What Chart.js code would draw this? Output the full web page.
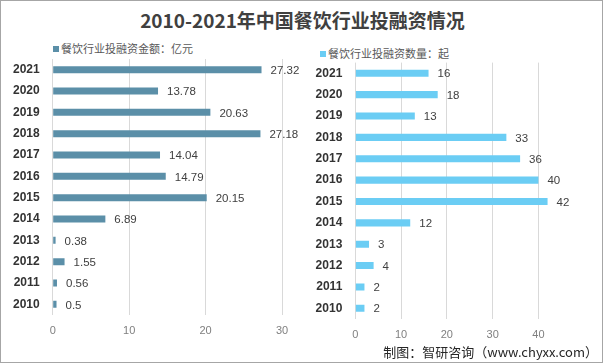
<!DOCTYPE html>
<html>
<head>
<meta charset="utf-8">
<script src="https://cdn.jsdelivr.net/npm/chart.js@4.4.1/dist/chart.umd.min.js"></script>
<style>
  html, body { margin: 0; padding: 0; background: #fff; }
  #wrap { position: relative; width: 603px; height: 363px; box-sizing: border-box; border: 1px solid #a6a6a6; overflow: hidden; font-family: "Noto Sans CJK SC", "Liberation Sans", sans-serif; }
  canvas { position: absolute; top: 0; }
  .title { position: absolute; left: 0; width: 603px; top: 6px; text-align: center; font-size: 19px; font-weight: bold; color: #404040; line-height: 26px; }
  .legend { position: absolute; font-size: 11px; color: #595959; line-height: 14px; white-space: nowrap; }
  .legend i { display: inline-block; width: 6px; height: 6px; margin-right: 2px; vertical-align: 1px; }
  .source { position: absolute; right: 4px; top: 342px; font-size: 13px; color: #262626; line-height: 18px; white-space: nowrap; }
</style>
</head>
<body>
<div id="wrap">
  <div class="title">2010-2021年中国餐饮行业投融资情况</div>
  <div class="legend" style="left:52px; top:40px;"><i style="background:#5b8fa8"></i>餐饮行业投融资金额：亿元</div>
  <div class="legend" style="left:319px; top:45px;"><i style="background:#6bcdf4"></i>餐饮行业投融资数量：起</div>
  <canvas id="chartAmount" width="300" height="363" style="left:-1px;"></canvas>
  <canvas id="chartCount" width="303" height="363" style="left:299px;"></canvas>
  <div class="source">制图：智研咨询（www.chyxx.com）</div>
</div>
<script>
var years = ['2010','2011','2012','2013','2014','2015','2016','2017','2018','2019','2020','2021'];
var amountValues = [0.5, 0.56, 1.55, 0.38, 6.89, 20.15, 14.79, 14.04, 27.18, 20.63, 13.78, 27.32];
var countValues = [2, 2, 4, 3, 12, 42, 40, 36, 33, 13, 18, 16];
var amountTicks = [0, 10, 20, 30];
var countTicks = [0, 10, 20, 30, 40];

// value labels at the end of each bar
var barLabels = {
    id: 'barLabels',
    afterDatasetsDraw: function(chart) {
        var ctx = chart.ctx;
        ctx.save();
        ctx.font = '11.5px "Liberation Sans", sans-serif';
        ctx.fillStyle = '#404040';
        ctx.textAlign = 'left';
        ctx.textBaseline = 'middle';
        chart.getDatasetMeta(0).data.forEach(function(bar, i) {
            ctx.fillText(String(chart.data.datasets[0].data[i]), bar.x + 9, bar.y + 1);
        });
        ctx.restore();
    }
};

function makeChart(id, values, color, max, tickList, pad, yWidth, xHeight) {
    return new Chart(document.getElementById(id), {
        type: 'bar',
        data: {
            labels: years,
            datasets: [{
                data: values,
                backgroundColor: color,
                categoryPercentage: 1,
                barPercentage: 0.33
            }]
        },
        plugins: [barLabels],
        options: {
            indexAxis: 'y',
            responsive: false,
            animation: false,
            layout: { padding: pad },
            plugins: { legend: { display: false }, tooltip: { enabled: false } },
            scales: {
                x: {
                    min: 0,
                    max: max,
                    afterBuildTicks: function(axis) {
                        axis.ticks = tickList.map(function(v) { return { value: v }; });
                    },
                    afterFit: function(scale) { scale.height = xHeight; },
                    grid: { color: '#d9d9d9', drawTicks: false },
                    border: { display: false },
                    ticks: { color: '#7f7f7f', padding: 9, font: { size: 11, family: '"Liberation Sans", sans-serif' } }
                },
                y: {
                    reverse: true,
                    afterFit: function(scale) { scale.width = yWidth; },
                    grid: { display: false, drawTicks: false },
                    border: { display: false },
                    ticks: { color: '#333333', padding: 13, font: { size: 12, weight: 'bold', family: '"Liberation Sans", sans-serif' } }
                }
            }
        }
    });
}

makeChart('chartAmount', amountValues, '#5b8fa8', 30, amountTicks, { top: 58, right: 18, bottom: 0, left: 0 }, 52.7, 49);
makeChart('chartCount', countValues, '#6bcdf4', 45, countTicks, { top: 61.6, right: 41.7, bottom: 0, left: 0 }, 55.3, 45);
</script>
</body>
</html>
